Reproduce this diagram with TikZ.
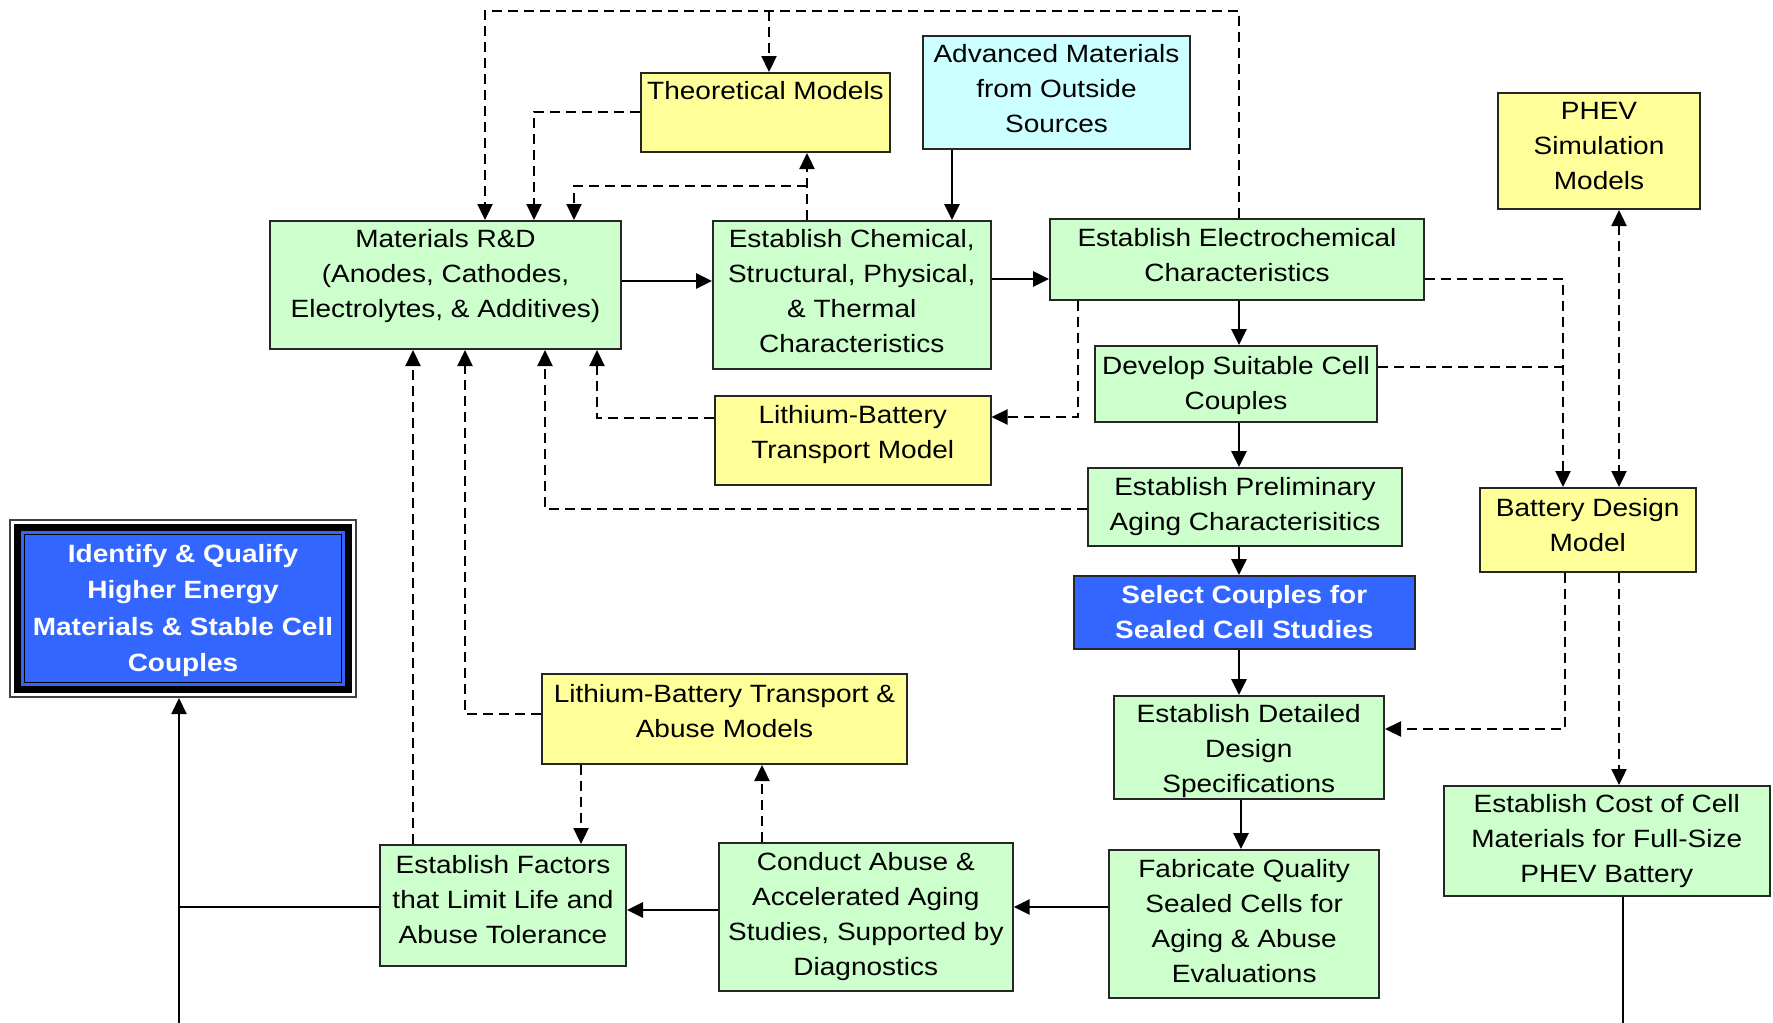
\documentclass[tikz,border=0pt]{standalone}
\usepackage{fontspec}
\setmainfont{Liberation Sans}[FakeStretch=1.12]
\usetikzlibrary{arrows.meta}
\definecolor{gfill}{HTML}{CCFFCC}
\definecolor{yfill}{HTML}{FFFF99}
\definecolor{cfill}{HTML}{CCFFFF}
\definecolor{bfill}{HTML}{3366FF}
\begin{document}
\begin{tikzpicture}[x=1pt,y=-1pt,
  box/.style={draw=black!85, line width=2pt, inner sep=0pt},
  gbox/.style={box, fill=gfill},
  ybox/.style={box, fill=yfill},
  cbox/.style={box, fill=cfill},
  bbox/.style={box, fill=bfill},
  txt/.style={inner sep=0pt, align=center, font=\fontsize{25}{35}\selectfont},
  wtxt/.style={txt, text=white, font=\fontsize{25}{35}\selectfont\bfseries},
  arr/.style={line width=2.8pt, -{Triangle[length=16pt,width=15pt]}},
  sarr/.style={line width=2.2pt, -{Triangle[length=16pt,width=15pt]}},
  sl/.style={line width=2.2pt},
  darr/.style={line width=2.3pt, dash pattern=on 10pt off 6pt, -{Triangle[length=16pt,width=15pt]}},
  dl/.style={line width=2.3pt, dash pattern=on 10pt off 6pt},
]
\useasboundingbox (0,0) rectangle (1773,1023);

% boxes
\node[gbox, minimum width=351pt, minimum height=128pt] (mat) at (445.5,285) {};
\node[ybox, minimum width=249pt, minimum height=79pt] (theo) at (765.5,112.5) {};
\node[cbox, minimum width=267pt, minimum height=113pt] (adv) at (1056.5,92.5) {};
\node[gbox, minimum width=277.5pt, minimum height=148pt] (chem) at (851.75,295) {};
\node[gbox, minimum width=374pt, minimum height=81pt] (elec) at (1237,259.5) {};
\node[ybox, minimum width=202pt, minimum height=116pt] (phev) at (1599,151) {};
\node[gbox, minimum width=282pt, minimum height=76pt] (dev) at (1236,384) {};
\node[ybox, minimum width=275.5pt, minimum height=89pt] (ltm) at (852.75,440.5) {};
\node[gbox, minimum width=314pt, minimum height=78pt] (prel) at (1245,507) {};
\node[ybox, minimum width=215.5pt, minimum height=84pt] (bdm) at (1587.75,530) {};
\node[bbox, minimum width=341.4pt, minimum height=73pt] (sel) at (1244.3,612.5) {};
\node[ybox, minimum width=365pt, minimum height=90pt] (abm) at (724.5,719) {};
\node[gbox, minimum width=270.5pt, minimum height=103pt] (det) at (1248.75,747.5) {};
\node[gbox, minimum width=325.5pt, minimum height=110pt] (cost) at (1606.75,841) {};
\node[gbox, minimum width=246pt, minimum height=121pt] (fac) at (503,905.5) {};
\node[gbox, minimum width=293.7pt, minimum height=148pt] (cond) at (865.85,917) {};
\node[gbox, minimum width=270.4pt, minimum height=148pt] (fab) at (1244.2,924) {};

% Identify box with multiple borders
\node[draw=black!75, line width=2pt, fill=white, inner sep=0pt,
  minimum width=346pt, minimum height=177pt] (ident) at (183,608.5) {};
\node[fill=black, inner sep=0pt, minimum width=338pt, minimum height=169pt]
  (identk) at (ident.center) {};
\node[fill=bfill, inner sep=0pt, minimum width=324pt, minimum height=155pt]
  (identb) at (ident.center) {};
\node[draw=black, line width=1.5pt, fill=bfill, inner sep=0pt,
  minimum width=317pt, minimum height=148pt] (identi) at (ident.center) {};

% texts
\node[txt, yshift=9pt] (matT) at (mat.center)
  {Materials R\&D\\(Anodes, Cathodes,\\Electrolytes, \& Additives)};
\node[txt, yshift=22pt] (theoT) at (theo.center) {Theoretical Models};
\node[txt, yshift=3.5pt] (advT) at (adv.center) {Advanced Materials\\from Outside\\Sources};
\node[txt, yshift=3.5pt] (chemT) at (chem.center)
  {Establish Chemical,\\Structural, Physical,\\\& Thermal\\Characteristics};
\node[txt, yshift=4pt] (elecT) at (elec.center) {Establish Electrochemical\\Characteristics};
\node[txt, yshift=4.5pt] (phevT) at (phev.center) {PHEV\\Simulation\\Models};
\node[txt, yshift=-2pt] (devT) at (dev.center) {Develop Suitable Cell\\Couples};
\node[txt, yshift=5.5pt] (ltmT) at (ltm.center) {Lithium-Battery\\Transport Model};
\node[txt] (prelT) at (prel.center) {Establish Preliminary\\Aging Characterisitics};
\node[txt, yshift=5pt] (bdmT) at (bdm.center) {Battery Design\\Model};
\node[wtxt] (selT) at (sel.center) {Select Couples for\\Sealed Cell Studies};
\node[txt, yshift=8pt] (abmT) at (abm.center) {Lithium-Battery Transport \&\\Abuse Models};
\node[txt, yshift=-4pt] (detT) at (det.center) {Establish Detailed\\Design\\Specifications};
\node[txt] (costT) at (cost.center) {Establish Cost of Cell\\Materials for Full-Size\\PHEV Battery};
\node[txt, yshift=6pt] (facT) at (fac.center) {Establish Factors\\that Limit Life and\\Abuse Tolerance};
\node[txt] (condT) at (cond.center)
  {Conduct Abuse \&\\Accelerated Aging\\Studies, Supported by\\Diagnostics};
\node[txt, yshift=3pt] (fabT) at (fab.center)
  {Fabricate Quality\\Sealed Cells for\\Aging \& Abuse\\Evaluations};
\node[wtxt, font=\fontsize{25}{36.5}\selectfont\bfseries, yshift=-2pt] (identT) at (ident.center)
  {Identify \& Qualify\\Higher Energy\\Materials \& Stable Cell\\Couples};

% solid connectors
\draw[arr] (mat.east |- 0,281) -- (chem.west |- 0,281);
\draw[arr] (adv.south -| 952,0) -- (chem.north -| 952,0);
\draw[arr] (chem.east |- 0,279) -- (elec.west |- 0,279);
\draw[arr] (elec.south -| 1239,0) -- (dev.north -| 1239,0);
\draw[arr] (dev.south -| 1239,0) -- (prel.north -| 1239,0);
\draw[arr] (prel.south -| 1239,0) -- (sel.north -| 1239,0);
\draw[arr] (sel.south -| 1239,0) -- (det.north -| 1239,0);
\draw[arr] (det.south -| 1241,0) -- (fab.north -| 1241,0);
\draw[arr] (fab.west |- 0,907) -- (cond.east |- 0,907);
\draw[arr] (cond.west |- 0,910) -- (fac.east |- 0,910);
\coordinate (bot) at (179,1023);
\draw[sarr] (bot) -- (ident.south -| bot);
\draw[sl] (fac.west |- 0,907) -- (bot |- 0,907);
\coordinate (bot2) at (1623,1023);
\draw[sl] (cost.south -| bot2) -- (bot2);

% dashed connectors
\coordinate (topbr) at (769,11);
\draw[darr] (elec.north -| 1239,0) |- (485,11) -- (mat.north -| 485,0);
\draw[darr] (topbr) -- (theo.north -| topbr);
\draw[darr] (theo.west |- 0,112) -| (mat.north -| 534,0);
\coordinate (chbr) at (807,186);
\draw[darr] (chem.north -| chbr) -- (theo.south -| chbr);
\draw[darr] (chbr) -| (mat.north -| 574,0);
\draw[darr] (ltm.west |- 0,418) -| (mat.south -| 597,0);
\draw[darr] (prel.west |- 0,509) -| (mat.south -| 545,0);
\draw[darr] (abm.west |- 0,714) -| (mat.south -| 465,0);
\draw[darr] (fac.north -| 413,0) -- (mat.south -| 413,0);
\draw[darr] (elec.south -| 1078,0) |- (ltm.east |- 0,417);
\draw[darr] (elec.east |- 0,279) -| (bdm.north -| 1563,0);
\draw[dl] (dev.east |- 0,367) -- (1563,367);
\draw[darr, {Triangle[length=16pt,width=15pt]}-{Triangle[length=16pt,width=15pt]}]
  (phev.south -| 1619,0) -- (bdm.north -| 1619,0);
\draw[darr] (bdm.south -| 1565,0) |- (det.east |- 0,729);
\draw[darr] (bdm.south -| 1619,0) -- (cost.north -| 1619,0);
\draw[darr] (abm.south -| 581,0) -- (fac.north -| 581,0);
\draw[darr] (cond.north -| 762,0) -- (abm.south -| 762,0);
\end{tikzpicture}
\end{document}
